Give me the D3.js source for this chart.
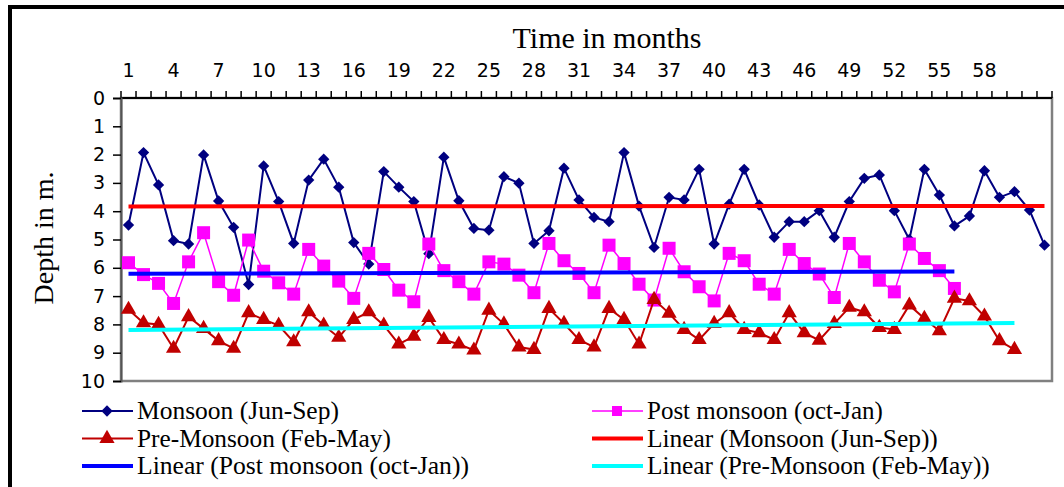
<!DOCTYPE html>
<html>
<head>
<meta charset="utf-8">
<script src="https://cdn.jsdelivr.net/npm/d3@7"></script>
<style>
  body { margin: 0; background: #fff; }
  svg { display: block; }
  .serif { font-family: "Liberation Serif", "Times New Roman", serif; }
</style>
</head>
<body>
<div id="chart"></div>
<script>
// depth to water level (m), one value per month
let monsoon = [4.49, 1.93, 3.07, 5.04, 5.16, 2.01, 3.64, 4.57, 6.59, 2.40,
  3.66, 5.14, 2.90, 2.16, 3.15, 5.11, 5.87, 2.60, 3.15, 3.66,
  5.50, 2.09, 3.63, 4.61, 4.67, 2.78, 3.01, 5.14, 4.69, 2.48,
  3.60, 4.22, 4.37, 1.93, 3.82, 5.28, 3.51, 3.60, 2.52, 5.16,
  3.75, 2.52, 3.78, 4.92, 4.37, 4.37, 3.98, 4.92, 3.66, 2.84,
  2.72, 3.98, 5.00, 2.52, 3.43, 4.52, 4.17, 2.57, 3.51, 3.31,
  3.96, 5.20];
let postMonsoon = [5.82, 6.24, 6.55, 7.26, 5.79, 4.76, 6.49, 6.97, 5.02, 6.12,
  6.53, 6.93, 5.35, 5.94, 6.47, 7.08, 5.49, 6.06, 6.79, 7.20,
  5.16, 6.10, 6.49, 6.93, 5.79, 5.87, 6.26, 6.88, 5.14, 5.75,
  6.20, 6.88, 5.20, 5.85, 6.58, 7.14, 5.31, 6.14, 6.67, 7.17,
  5.49, 5.75, 6.58, 6.93, 5.35, 5.85, 6.22, 7.05, 5.14, 5.79,
  6.44, 6.85, 5.16, 5.67, 6.10, 6.73];
let preMonsoon = [7.47, 7.95, 8.00, 8.85, 7.73, 8.15, 8.58, 8.85, 7.59, 7.83,
  8.03, 8.62, 7.56, 8.03, 8.46, 7.83, 7.56, 8.03, 8.70, 8.42,
  7.76, 8.54, 8.70, 8.91, 7.50, 7.99, 8.80, 8.89, 7.44, 7.97,
  8.54, 8.80, 7.44, 7.83, 8.70, 7.12, 7.61, 8.18, 8.54, 7.97,
  7.59, 8.18, 8.30, 8.54, 7.59, 8.30, 8.56, 7.97, 7.40, 7.56,
  8.11, 8.18, 7.32, 7.79, 8.23, 7.08, 7.17, 7.71, 8.58, 8.89];

let months = d3.range(1, 63);
let monthLabels = [1, 4, 7, 10, 13, 16, 19, 22, 25, 28, 31, 34, 37, 40, 43, 46, 49, 52, 55, 58];
let depthTicks = [0, 1, 2, 3, 4, 5, 6, 7, 8, 9, 10];

let w = 1064;
let h = 487;
let plotLeft = 121, plotRight = 1052, plotTop = 98, plotBottom = 381;

let svg = d3.select("#chart").append("svg")
  .attr("width", w)
  .attr("height", h);

svg.append("rect").attr("width", w).attr("height", h).attr("fill", "#fff");
// outer frame (runs off the picture at right and bottom)
svg.append("rect")
  .attr("x", 10).attr("y", 7)
  .attr("width", 1100).attr("height", 540)
  .attr("fill", "none").attr("stroke", "#000").attr("stroke-width", 4);

let xScale = d3.scaleBand().domain(months).range([plotLeft, plotRight]);
let yScale = d3.scaleLinear().domain([0, 10]).range([plotTop, plotBottom]);
let cx = d => xScale(d) + xScale.bandwidth() / 2;

// plot area border
svg.append("rect")
  .attr("x", plotLeft).attr("y", plotTop)
  .attr("width", plotRight - plotLeft).attr("height", plotBottom - plotTop)
  .attr("fill", "#fff").attr("stroke", "#808080").attr("stroke-width", 2.5);

// top axis with ticks between months
let xAxisGroup = svg.append("g").attr("transform", "translate(0," + plotTop + ")");
xAxisGroup.append("line")
  .attr("x1", plotLeft).attr("x2", plotRight)
  .attr("stroke", "#000").attr("stroke-width", 2);
xAxisGroup.selectAll(".xt")
  .data(d3.range(0, months.length + 1))
  .enter().append("line")
  .attr("x1", i => plotLeft + i * xScale.bandwidth())
  .attr("x2", i => plotLeft + i * xScale.bandwidth())
  .attr("y1", 0).attr("y2", -7)
  .attr("stroke", "#000").attr("stroke-width", 1.5);
xAxisGroup.selectAll(".xl")
  .data(monthLabels)
  .enter().append("text")
  .attr("x", d => cx(d))
  .attr("y", -21)
  .attr("text-anchor", "middle")
  .attr("font-family", "DejaVu Sans")
  .attr("font-size", 19)
  .text(d => d);

svg.append("text")
  .attr("class", "serif")
  .attr("x", 607).attr("y", 48)
  .attr("text-anchor", "middle")
  .style("font-size", "30px")
  .text("Time in months");

// depth axis
let yAxis = d3.axisLeft(yScale).tickValues(depthTicks).tickSize(8).tickPadding(8);
let yAxisGroup = svg.append("g")
  .attr("transform", "translate(" + plotLeft + ",0)")
  .call(yAxis);
yAxisGroup.select(".domain").attr("stroke", "#555").attr("stroke-width", 2);
yAxisGroup.selectAll(".tick line").attr("stroke", "#000").attr("stroke-width", 1.5);
yAxisGroup.selectAll("text")
  .attr("font-family", "DejaVu Sans")
  .attr("font-size", 19)
  .attr("fill", "#000");

svg.append("text")
  .attr("class", "serif")
  .attr("transform", "translate(53,238) rotate(-90)")
  .attr("text-anchor", "middle")
  .style("font-size", "28px")
  .text("Depth in m.");

let series = [
  { name: "Monsoon (Jun-Sep)", values: monsoon, color: "#000080", width: 2, symbol: "diamond" },
  { name: "Post monsoon (oct-Jan)", values: postMonsoon, color: "#FF00FF", width: 1.5, symbol: "square" },
  { name: "Pre-Monsoon (Feb-May)", values: preMonsoon, color: "#C00000", width: 2, symbol: "triangle" }
];
let trendColors = ["#FF0000", "#0000FF", "#00FFFF"];

function markerPath(s) {
  if (s == "diamond") return d3.symbol().type(d3.symbolSquare).size(64)();
  if (s == "square") return d3.symbol().type(d3.symbolSquare).size(169)();
  return d3.symbol().type(d3.symbolTriangle).size(100)();
}
function markerRotate(s) {
  return s == "diamond" ? " rotate(45)" : "";
}

let line = d3.line()
  .x((d, i) => cx(months[i]))
  .y(d => yScale(d));

let graphGroup = svg.append("g");
series.forEach(function (s) {
  graphGroup.append("path")
    .datum(s.values)
    .attr("d", line)
    .attr("fill", "none")
    .attr("stroke", s.color)
    .attr("stroke-width", s.width);
  graphGroup.selectAll(".m" + s.symbol)
    .data(s.values)
    .enter().append("path")
    .attr("d", markerPath(s.symbol))
    .attr("transform", (d, i) => "translate(" + cx(months[i]) + "," + yScale(d) + ")" + markerRotate(s.symbol))
    .attr("fill", s.color);
});

// least squares trend for each series
function trend(values) {
  let n = values.length;
  let xs = d3.range(1, n + 1);
  let mx = d3.mean(xs), my = d3.mean(values);
  let sxy = d3.sum(xs, (x, i) => (x - mx) * (values[i] - my));
  let sxx = d3.sum(xs, x => (x - mx) * (x - mx));
  let b = sxy / sxx;
  let a = my - b * mx;
  return [[1, a + b], [n, a + b * n]];
}
[0, 1, 2].forEach(function (k) {
  let t = trend(series[k].values);
  graphGroup.append("line")
    .attr("x1", cx(t[0][0])).attr("y1", yScale(t[0][1]))
    .attr("x2", cx(t[1][0])).attr("y2", yScale(t[1][1]))
    .attr("stroke", trendColors[k])
    .attr("stroke-width", 4);
});

// legend
let legendItems = [
  { label: "Monsoon (Jun-Sep)", color: "#000080", symbol: "diamond", lw: 2, tl: 202 },
  { label: "Post monsoon (oct-Jan)", color: "#FF00FF", symbol: "square", lw: 1.5, tl: 236 },
  { label: "Pre-Monsoon (Feb-May)", color: "#C00000", symbol: "triangle", lw: 2, tl: 254 },
  { label: "Linear (Monsoon (Jun-Sep))", color: "#FF0000", symbol: null, lw: 4, tl: 291 },
  { label: "Linear (Post monsoon (oct-Jan))", color: "#0000FF", symbol: null, lw: 4, tl: 332 },
  { label: "Linear (Pre-Monsoon (Feb-May))", color: "#00FFFF", symbol: null, lw: 4, tl: 343 }
];
let legend = svg.append("g");
legendItems.forEach(function (d, i) {
  let lx = i % 2 == 0 ? 82 : 592;
  let ly = 411 + Math.floor(i / 2) * 27.5;
  let g = legend.append("g").attr("transform", "translate(" + lx + "," + ly + ")");
  g.append("line")
    .attr("x1", 0).attr("x2", 51)
    .attr("stroke", d.color).attr("stroke-width", d.lw);
  if (d.symbol) {
    g.append("path")
      .attr("d", d.symbol == "square" ? d3.symbol().type(d3.symbolSquare).size(100)() : markerPath(d.symbol))
      .attr("transform", "translate(25,0)" + markerRotate(d.symbol))
      .attr("fill", d.color);
  }
  let t = g.append("text")
    .attr("class", "serif")
    .style("font-size", "26px")
    .text(d.label);
  // squeeze the text to the width it has in the picture
  let natural = t.node().getComputedTextLength();
  t.attr("transform", "translate(55,8) scale(" + (d.tl / natural) + ",1)");
});
</script>
</body>
</html>
